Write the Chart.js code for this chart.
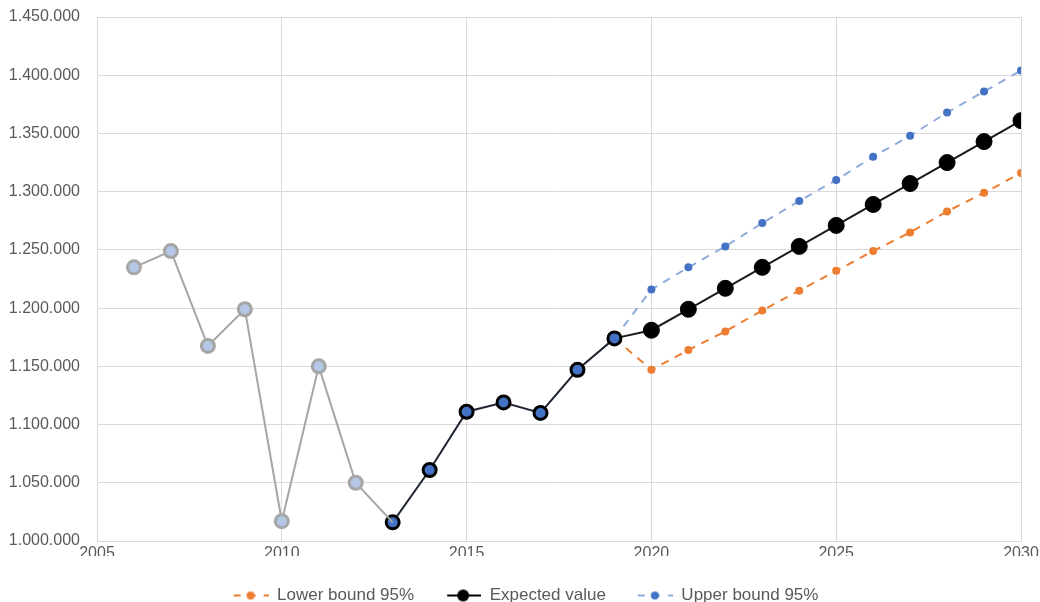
<!DOCTYPE html>
<html>
<head>
<meta charset="utf-8">
<script src="https://cdn.jsdelivr.net/npm/chart.js@4.4.1/dist/chart.umd.min.js"></script>
<style>
  html, body { margin: 0; padding: 0; background: #fff; }
  #wrap { width: 1040px; height: 602px; }
</style>
</head>
<body>
<div id="wrap"><canvas id="chart" width="1040" height="602"></canvas></div>
<script>
// observed values (2006-2019), split in two styles
const yearsOld = [2006, 2007, 2008, 2009, 2010, 2011, 2012, 2013];
const valuesOld = [1235000, 1249000, 1167500, 1199000, 1017000, 1150000, 1050000, 1016000];
const yearsRecent = [2013, 2014, 2015, 2016, 2017, 2018, 2019];
const valuesRecent = [1016000, 1061000, 1111000, 1119000, 1110000, 1147000, 1174000];

// forecast 2019-2030
const yearsForecast = [2019, 2020, 2021, 2022, 2023, 2024, 2025, 2026, 2027, 2028, 2029, 2030];
const expected = [1174000, 1181000, 1199000, 1217000, 1235000, 1253000, 1271000, 1289000, 1307000, 1325000, 1343000, 1361000];
const lower95 = [1174000, 1147000, 1164000, 1180000, 1198000, 1215000, 1232000, 1249000, 1265000, 1283000, 1299000, 1316000];
const upper95 = [1174000, 1216000, 1235000, 1253000, 1273000, 1292000, 1310000, 1330000, 1348000, 1368000, 1386000, 1404000];

const legendNames = ['Lower bound 95%', 'Expected value', 'Upper bound 95%'];

const toPoints = (xs, ys) => xs.map((x, i) => ({ x: x, y: ys[i] }));
const fmt = v => String(v).replace(/\B(?=(\d{3})+(?!\d))/g, '.');

// small canvas used as legend symbol: line + dot
const legendSymbol = (lineColor, dotColor, dashed, dotR) => {
    const c = document.createElement('canvas');
    c.width = 36; c.height = 16;
    const g = c.getContext('2d');
    g.strokeStyle = lineColor;
    g.lineWidth = 2;
    if (dashed) g.setLineDash([7, 8]);
    g.beginPath();
    g.moveTo(dashed ? 1 : 2, 8);
    g.lineTo(36, 8);
    g.stroke();
    g.fillStyle = dotColor;
    g.beginPath();
    g.arc(18, 8, dotR, 0, Math.PI * 2);
    g.fill();
    return c;
};

const symbols = [
    legendSymbol('#ed7d31', '#ed7d31', true, 4),
    legendSymbol('#000000', '#000000', false, 6),
    legendSymbol('#8faadc', '#4472c4', true, 4)
];

// fixed legend height, and legend nudged right like in the original
const legendPlacePlugin = {
    id: 'legendPlace',
    beforeInit(chart) {
        const fit = chart.legend.fit;
        chart.legend.fit = function () {
            fit.bind(chart.legend)();
            this.height = 46;
        };
    },
    afterLayout(chart) {
        chart.legend.left += 15;
        chart.legend.right += 15;
    }
};

const tickFont = { family: "'Liberation Sans', Arial, sans-serif", size: 16 };

new Chart(document.getElementById('chart'), {
    type: 'line',
    data: {
        datasets: [
            {
                label: 'old',
                data: toPoints(yearsOld, valuesOld),
                borderColor: '#a6a6a6',
                borderWidth: 2,
                backgroundColor: '#b4c7e7',
                pointBorderColor: '#a6a6a6',
                pointBorderWidth: 3,
                pointRadius: yearsOld.map((y, i) => i === yearsOld.length - 1 ? 0 : 6.5),
                tension: 0
            },
            {
                label: 'recent',
                data: toPoints(yearsRecent, valuesRecent),
                borderColor: '#1f2533',
                borderWidth: 2,
                backgroundColor: '#4472c4',
                pointBorderColor: '#000000',
                pointBorderWidth: 3,
                pointRadius: 6.5,
                tension: 0
            },
            {
                label: legendNames[2],
                data: toPoints(yearsForecast, upper95),
                borderColor: '#8faadc',
                borderWidth: 2,
                borderDash: [8, 7],
                backgroundColor: '#4472c4',
                pointBorderWidth: 0,
                pointRadius: yearsForecast.map((y, i) => i === 0 ? 0 : 4),
                tension: 0
            },
            {
                label: legendNames[0],
                data: toPoints(yearsForecast, lower95),
                borderColor: '#ed7d31',
                borderWidth: 2,
                borderDash: [8, 7],
                backgroundColor: '#ed7d31',
                pointBorderWidth: 0,
                pointRadius: yearsForecast.map((y, i) => i === 0 ? 0 : 4),
                tension: 0
            },
            {
                label: legendNames[1],
                data: toPoints(yearsForecast, expected),
                borderColor: '#1a1a1a',
                borderWidth: 2,
                backgroundColor: '#000000',
                pointBorderColor: '#000000',
                pointBorderWidth: 1,
                pointRadius: yearsForecast.map((y, i) => i === 0 ? 0 : 8),
                tension: 0
            }
        ]
    },
    options: {
        responsive: false,
        animation: false,
        layout: { padding: { top: 17, right: 19, left: 0, bottom: 0 } },
        plugins: {
            legend: {
                position: 'bottom',
                labels: {
                    color: '#595959',
                    font: { family: "'Liberation Sans', Arial, sans-serif", size: 17 },
                    usePointStyle: true,
                    pointStyleWidth: 36,
                    padding: 31,
                    generateLabels: () => legendNames.map((name, i) => ({
                        text: name,
                        pointStyle: symbols[i],
                        fontColor: '#595959',
                        lineWidth: 0,
                        strokeStyle: 'rgba(0,0,0,0)',
                        fillStyle: 'rgba(0,0,0,0)',
                        hidden: false,
                        datasetIndex: [3, 4, 2][i]
                    }))
                }
            },
            tooltip: { enabled: false }
        },
        scales: {
            x: {
                type: 'linear',
                min: 2005,
                max: 2030,
                ticks: {
                    stepSize: 5,
                    maxRotation: 0,
                    padding: 3,
                    color: '#595959',
                    font: tickFont,
                    callback: v => String(v)
                },
                grid: { color: '#d9d9d9', drawTicks: false },
                border: { color: '#d9d9d9' },
                afterFit: scale => {
                    scale.height = 15;
                    scale.paddingLeft = 0;
                    scale.paddingRight = 0;
                }
            },
            y: {
                min: 1000000,
                max: 1450000,
                ticks: {
                    stepSize: 50000,
                    padding: 17,
                    color: '#595959',
                    font: tickFont,
                    callback: v => fmt(v)
                },
                grid: { color: '#d9d9d9', drawTicks: false },
                border: { color: '#d9d9d9' },
                afterFit: scale => {
                    scale.width = 97;
                    scale.paddingTop = 0;
                    scale.paddingBottom = 0;
                }
            }
        }
    },
    plugins: [legendPlacePlugin]
});
</script>
</body>
</html>
